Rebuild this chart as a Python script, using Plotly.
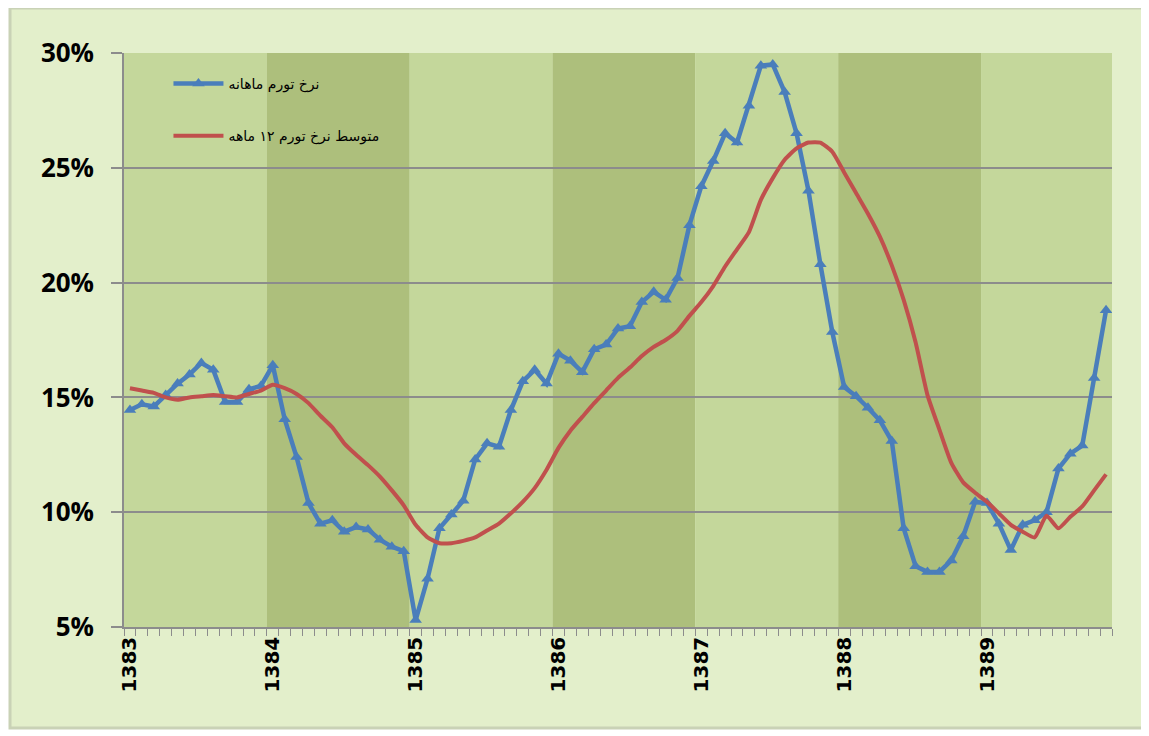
import plotly.graph_objects as go

years = ["1383", "1384", "1385", "1386", "1387", "1388", "1389"]
months_per_year = 12

monthly_rate = [
    14.45, 14.7, 14.6, 15.1, 15.6, 16.0, 16.5, 16.2, 14.8, 14.8, 15.35, 15.5,
    16.4, 14.05, 12.4, 10.4, 9.5, 9.65, 9.15, 9.35, 9.25, 8.8, 8.5, 8.3,
    5.3, 7.1, 9.3, 9.9, 10.5, 12.3, 13.0, 12.85, 14.45, 15.7, 16.2, 15.6,
    16.9, 16.6, 16.1, 17.1, 17.3, 18.0, 18.1, 19.15, 19.6, 19.25, 20.2, 22.5,
    24.2, 25.3, 26.5, 26.1, 27.7, 29.45, 29.5, 28.3, 26.5, 24.0, 20.8, 17.85,
    15.45, 15.05, 14.55, 14.0, 13.1, 9.3, 7.65, 7.4, 7.4, 7.9, 8.95, 10.45,
    10.4, 9.5, 8.35, 9.45, 9.65, 10.0, 11.9, 12.55, 12.9, 15.85, 18.8,
]

avg12_rate = [
    15.4, 15.3, 15.2, 15.0, 14.9, 15.0, 15.05, 15.1, 15.05, 15.0, 15.15, 15.3,
    15.55, 15.4, 15.15, 14.75, 14.2, 13.7, 13.0, 12.5, 12.05, 11.55, 10.95, 10.3,
    9.45, 8.9, 8.65, 8.65, 8.75, 8.9, 9.2, 9.5, 9.95, 10.45, 11.05, 11.85,
    12.8, 13.55, 14.15, 14.75, 15.3, 15.85, 16.3, 16.8, 17.2, 17.5, 17.9, 18.55,
    19.15, 19.85, 20.7, 21.45, 22.2, 23.6, 24.55, 25.35, 25.85, 26.1, 26.1, 25.7,
    24.8, 23.9, 23.0, 22.0, 20.75, 19.25, 17.4, 15.1, 13.6, 12.15, 11.3, 10.85,
    10.45, 9.95, 9.45, 9.15, 8.9, 9.85, 9.3, 9.8, 10.25, 10.95, 11.65,
]

name_monthly = "نرخ تورم ماهانه"
name_avg = "متوسط نرخ تورم ۱۲ ماهه"

yticks = [5, 10, 15, 20, 25, 30]

x_idx = list(range(len(monthly_rate)))
n = len(monthly_rate)

fig = go.Figure()
fig.add_trace(go.Scatter(
    x=x_idx, y=monthly_rate, mode="lines+markers", name=name_monthly,
    line=dict(color="#4a7ebb", width=4.5),
    marker=dict(symbol="triangle-up", size=11, color="#4a7ebb"),
    legendgroup="a",
))
fig.add_trace(go.Scatter(
    x=x_idx, y=avg12_rate, mode="lines", name=name_avg,
    line=dict(color="#c0504d", width=4, shape="spline", smoothing=0.5),
    legendgroup="b",
))

# page body has an 8px margin: figure origin sits at (8, 8) in the window
OFF = 8
W, H = 1149 - OFF, 736 - OFF
L, T = 124 - OFF, 53 - OFF
R = W - (1112 - OFF)
B = H - (627 - OFF)
pw, ph = W - L - R, H - T - B

def px_to_paper_x(px):
    return (px - OFF - L) / pw

def px_to_paper_y(py):
    return (H - B - (py - OFF)) / ph

shapes = []
# outer frame
shapes.append(dict(
    type="rect", xref="paper", yref="paper", layer="below",
    x0=px_to_paper_x(10), x1=px_to_paper_x(1143),
    y0=px_to_paper_y(728), y1=px_to_paper_y(8),
    fillcolor="#e3efcb", line=dict(color="#c9d2b6", width=3),
))
# year bands
for k, yr in enumerate(years):
    x0 = k * months_per_year - 0.5
    x1 = min((k + 1) * months_per_year - 0.5, n - 0.5)
    shapes.append(dict(
        type="rect", xref="x", yref="y domain", layer="below",
        x0=x0, x1=x1, y0=0, y1=1,
        fillcolor="#c4d79b" if k % 2 == 0 else "#adbf7c",
        line=dict(width=0),
    ))

fig.update_layout(
    width=W, height=H,
    margin=dict(l=L, r=R, t=T, b=B),
    paper_bgcolor="#ffffff",
    plot_bgcolor="#c4d79b",
    shapes=shapes,
    showlegend=True,
    legend=dict(
        x=0.045, y=0.974, xanchor="left", yanchor="top",
        bgcolor="rgba(0,0,0,0)", borderwidth=0,
        font=dict(family="DejaVu Sans", size=14, color="#000000"),
        traceorder="grouped", tracegroupgap=31, itemwidth=50,
    ),
    font=dict(family="Liberation Sans", color="#000000"),
)

fig.update_xaxes(
    range=[-0.5, n - 0.5],
    tickmode="array",
    tickvals=[k * months_per_year for k in range(len(years))],
    ticktext=years,
    tickangle=-90,
    ticks="",
    tickfont=dict(family="DejaVu Sans", size=20, color="#000000", weight="bold"),
    showgrid=False, zeroline=False,
    showline=True, linecolor="#8c8c8c", linewidth=1.5,
    minor=dict(ticks="outside", ticklen=7, tickcolor="#8c8c8c", tickwidth=1,
               tickmode="linear", tick0=-0.5, dtick=1, showgrid=False),
)
fig.update_yaxes(
    range=[5, 30],
    tickmode="array",
    tickvals=yticks,
    ticktext=[f"{v}%" for v in yticks],
    ticks="outside", ticklen=11, tickcolor="#8c8c8c", tickwidth=1.5,
    ticklabelstandoff=12,
    tickfont=dict(family="Open Sans", size=26, color="#000000", weight="bold"),
    showgrid=True, gridcolor="#8c8c8c", gridwidth=1.5,
    zeroline=False,
    showline=True, linecolor="#8c8c8c", linewidth=1.5,
)

fig.write_html("out.html")
